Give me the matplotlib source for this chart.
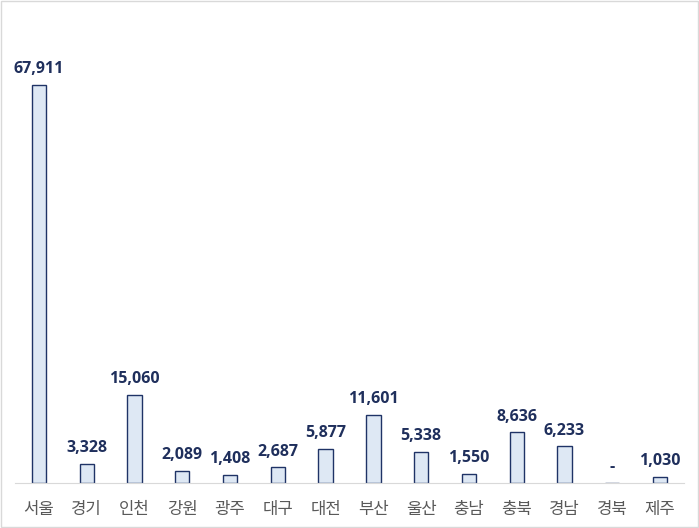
import matplotlib.pyplot as plt

plt.rcParams['font.family'] = ['Noto Sans CJK KR', 'DejaVu Sans']

regions = ['서울', '경기', '인천', '강원', '광주', '대구', '대전', '부산', '울산', '충남', '충북', '경남', '경북', '제주']
values = [67911, 3328, 15060, 2089, 1408, 2687, 5877, 11601, 5338, 1550, 8636, 6233, 0, 1030]
labels = ['67,911', '3,328', '15,060', '2,089', '1,408', '2,687', '5,877', '11,601', '5,338', '1,550', '8,636', '6,233', '-', '1,030']

fig = plt.figure(figsize=(6.99, 5.28), dpi=100)
ax = fig.add_axes([0.0215, 0.0852, 0.957, 0.888])

x = range(len(regions))
ax.bar(x, values, width=0.3, color='#dee8f4', edgecolor='#1f3366', linewidth=1.0)
for i, (v, lab) in enumerate(zip(values, labels)):
    ax.text(i, v + 1300, lab, ha='center', va='bottom', fontsize=11.5,
            fontweight='bold', color='#1f2f5c', family=['Open Sans', 'DejaVu Sans'])

ax.set_xlim(-0.5, len(regions) - 0.5)
ax.set_ylim(0, 80000)
ax.set_xticks(list(x))
ax.set_xticklabels(regions, fontsize=12, color='#595959')
ax.tick_params(axis='x', length=0, pad=13)
ax.set_yticks([])
for s in ['top', 'right', 'left']:
    ax.spines[s].set_visible(False)
ax.spines['bottom'].set_color('#d9d9d9')

fig.patches.append(plt.Rectangle((0.001, 0.001), 0.997, 0.997, transform=fig.transFigure,
                                 fill=False, edgecolor='#d9d9d9', linewidth=1))

fig.savefig('out.png', dpi=100)
